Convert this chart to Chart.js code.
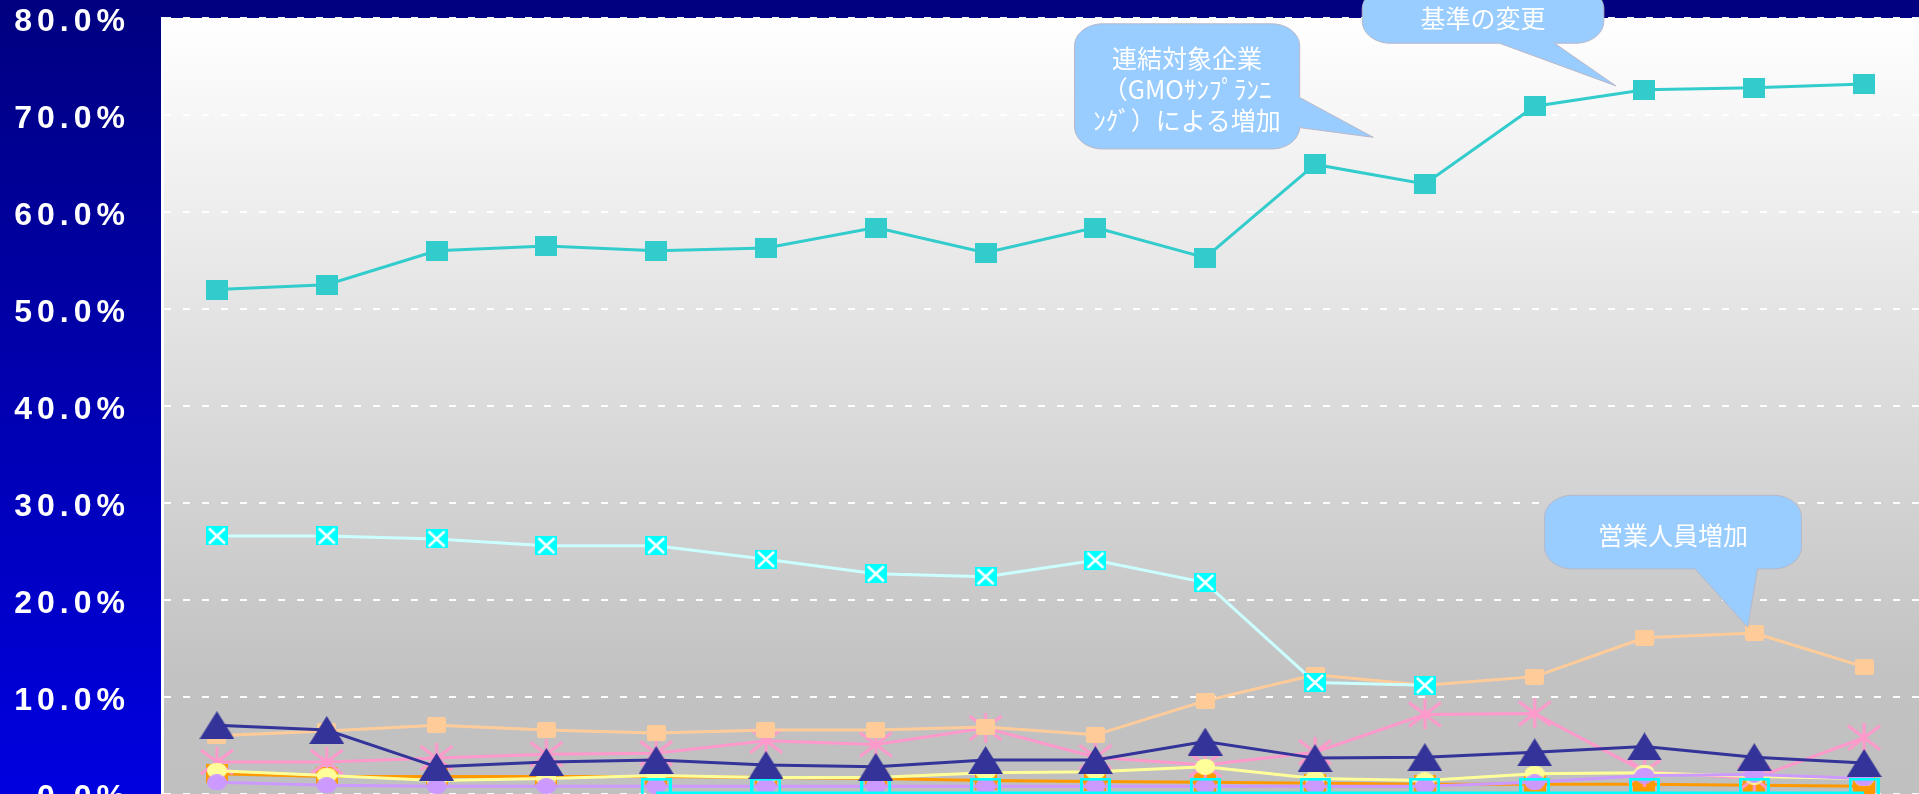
<!DOCTYPE html>
<html><head><meta charset="utf-8">
<script src="https://cdn.jsdelivr.net/npm/chart.js@4/dist/chart.umd.min.js"></script>
<style>html,body{margin:0;padding:0;background:#000080;overflow:hidden}#wrap{width:1919px;height:794px;position:relative}</style>
</head><body><div id="wrap"><canvas id="c"></canvas></div>
<script>
// ---- data ----
const categories = ['1','2','3','4','5','6','7','8','9','10','11','12','13','14','15','16'];
const tealValues     = [52.0, 52.5, 56.0, 56.5, 56.0, 56.3, 58.4, 55.8, 58.4, 55.3, 64.9, 62.9, 70.9, 72.6, 72.8, 73.2];
const cyanXValues    = [26.6, 26.6, 26.3, 25.6, 25.6, 24.2, 22.7, 22.4, 24.1, 21.8, 11.5, 11.2, null, null, null, null];
const peachValues    = [6.0, 6.5, 7.1, 6.6, 6.3, 6.6, 6.6, 6.9, 6.1, 9.6, 12.3, 11.2, 12.1, 16.1, 16.6, 13.1];
const navyValues     = [7.1, 6.6, 2.8, 3.3, 3.5, 3.0, 2.8, 3.5, 3.5, 5.4, 3.7, 3.8, 4.3, 4.9, 3.8, 3.2];
const pinkValues     = [3.3, 3.3, 3.7, 4.1, 4.2, 5.5, 5.1, 6.8, 3.8, 3.0, 4.3, 8.2, 8.3, 2.3, 1.6, 5.8];
const orangeValues   = [2.1, 1.8, 1.8, 1.8, 1.8, 1.7, 1.6, 1.4, 1.3, 1.2, 1.1, 1.0, 1.0, 1.0, 0.9, 0.8];
const yellowValues   = [2.4, 1.9, 1.4, 1.6, 1.9, 1.7, 1.7, 2.2, 2.3, 2.8, 1.6, 1.4, 2.1, 2.2, 1.8, 1.6];
const lavenderValues = [1.2, 0.9, 0.8, 0.8, 0.8, 0.8, 0.8, 0.8, 0.8, 0.8, 0.8, 0.8, 1.2, 1.9, 2.0, 1.6];
const cyanOpenValues = [null, null, null, null, 0.1, 0.1, 0.1, 0.1, 0.1, 0.1, 0.1, 0.1, 0.1, 0.1, 0.1, 0.1];
const yTickLabels = ['0.0%','10.0%','20.0%','30.0%','40.0%','50.0%','60.0%','70.0%','80.0%'];
const callouts = [
  { text: ['連結対象企業', '（GMOｻﾝﾌﾟﾗﾝﾆ', 'ﾝｸﾞ）による増加'], x0: 7.81, x1: 9.86, yTop: 79.4, yBottom: 66.5,
    tailSide: 'right', tailA: 71.8, tailB: 68.7, tipX: 10.53, tipY: 67.7 },
  { text: ['基準の変更'], x0: 10.43, x1: 12.63, yTop: 83.2, yBottom: 77.4,
    tailSide: 'bottom', tailA: 11.68, tailB: 12.18, tipX: 12.74, tipY: 73.0 },
  { text: ['営業人員増加'], x0: 12.09, x1: 14.43, yTop: 30.8, yBottom: 23.2,
    tailSide: 'bottom', tailA: 13.46, tailB: 14.03, tipX: 13.94, tipY: 17.2 }
];

// ---- marker images ----
function mk(w, h, fn) { const c = document.createElement('canvas'); c.width = w; c.height = h; fn(c.getContext('2d'), w, h); return c; }
const mTeal = mk(22, 20, (x, w, h) => { x.fillStyle = '#33CCCC'; x.fillRect(0, 0, w, h); });
const mCyanX = mk(22, 19, (x, w, h) => { x.fillStyle = '#00FFFF'; x.fillRect(0, 0, w, h);
  x.strokeStyle = '#FFFFFF'; x.lineWidth = 2.5; x.beginPath(); x.moveTo(3, 2); x.lineTo(w - 3, h - 2); x.moveTo(w - 3, 2); x.lineTo(3, h - 2); x.stroke(); });
const mPeach = mk(19, 16, (x, w, h) => { x.fillStyle = '#FFCC99'; x.beginPath(); x.roundRect(0, 0, w, h, 2); x.fill(); });
const mNavy = mk(35, 28, (x, w, h) => { x.fillStyle = '#333399'; x.beginPath(); x.moveTo(w / 2, 0); x.lineTo(w, h); x.lineTo(0, h); x.closePath(); x.fill(); });
const mPink = mk(36, 30, (x, w, h) => { x.strokeStyle = '#FF99CC'; x.lineWidth = 3; x.beginPath();
  x.moveTo(w / 2, 0); x.lineTo(w / 2, h); x.moveTo(2, 3); x.lineTo(w - 2, h - 3); x.moveTo(w - 2, 3); x.lineTo(2, h - 3); x.stroke(); });
const mOrange = mk(22, 19, (x, w, h) => { x.fillStyle = '#FF9900'; x.fillRect(0, 0, w, h); });
const mYellow = mk(20, 16, (x, w, h) => { x.fillStyle = '#FFFF99'; x.beginPath(); x.ellipse(w / 2, h / 2, w / 2, h / 2, 0, 0, Math.PI * 2); x.fill(); });
const mLav = mk(20, 16, (x, w, h) => { x.fillStyle = '#CC99FF'; x.beginPath(); x.ellipse(w / 2, h / 2, w / 2, h / 2, 0, 0, Math.PI * 2); x.fill(); });
const mCyanOpen = mk(31, 31, (x, w, h) => { x.strokeStyle = '#00FFFF'; x.lineWidth = 3; x.strokeRect(1.5, 1.5, w - 3, h - 3); });

function ds(label, data, color, marker) {
  return { label, data, borderColor: color, backgroundColor: color, borderWidth: 3, tension: 0, fill: false,
    pointStyle: marker, pointRadius: 6, pointHoverRadius: 6, spanGaps: false };
}

function drawCallout(ctx, xs, ys, c) {
  const L = xs.getPixelForValue(c.x0), R = xs.getPixelForValue(c.x1);
  const T = ys.getPixelForValue(c.yTop), B = ys.getPixelForValue(c.yBottom);
  const tipX = xs.getPixelForValue(c.tipX), tipY = ys.getPixelForValue(c.tipY);
  const rx = 28, ry = 22, k = 0.45;
  ctx.beginPath();
  ctx.moveTo(L + rx, T);
  ctx.lineTo(R - rx, T);
  ctx.bezierCurveTo(R - rx * k, T, R, T + ry * k, R, T + ry);
  if (c.tailSide === 'right') {
    const a = ys.getPixelForValue(c.tailA), b = ys.getPixelForValue(c.tailB);
    ctx.lineTo(R, a); ctx.lineTo(tipX, tipY); ctx.lineTo(R, b);
  }
  ctx.lineTo(R, B - ry);
  ctx.bezierCurveTo(R, B - ry * k, R - rx * k, B, R - rx, B);
  if (c.tailSide === 'bottom') {
    const a = xs.getPixelForValue(c.tailA), b = xs.getPixelForValue(c.tailB);
    ctx.lineTo(b, B); ctx.lineTo(tipX, tipY); ctx.lineTo(a, B);
  }
  ctx.lineTo(L + rx, B);
  ctx.bezierCurveTo(L + rx * k, B, L, B - ry * k, L, B - ry);
  ctx.lineTo(L, T + ry);
  ctx.bezierCurveTo(L, T + ry * k, L + rx * k, T, L + rx, T);
  ctx.closePath();
  ctx.fillStyle = '#99CCFF'; ctx.fill();
  ctx.strokeStyle = '#B8B8C8'; ctx.lineWidth = 1; ctx.stroke();
  ctx.fillStyle = '#FFFFFF';
  ctx.font = '25px "Noto Sans CJK JP"';
  ctx.textAlign = 'center'; ctx.textBaseline = 'middle';
  const lh = 31, cx = (L + R) / 2, cy = (T + B) / 2 + 3;
  c.text.forEach((t, i) => ctx.fillText(t, cx, cy + (i - (c.text.length - 1) / 2) * lh));
}

const bgPlugin = {
  id: 'bg',
  beforeDraw(chart) {
    const { ctx, chartArea: a, width, height } = chart;
    ctx.save();
    const g = ctx.createLinearGradient(0, 0, 0, height);
    g.addColorStop(0, '#000080'); g.addColorStop(1, '#0000E0');
    ctx.fillStyle = g; ctx.fillRect(0, 0, width, height);
    const p = ctx.createLinearGradient(0, a.top, 0, a.bottom);
    p.addColorStop(0, '#FFFFFF'); p.addColorStop(0.85, '#C2C2C2'); p.addColorStop(1, '#C0C0C0');
    ctx.fillStyle = p; ctx.fillRect(a.left, a.top, a.right - a.left, a.bottom - a.top);
    ctx.restore();
    ctx.letterSpacing = '5px';
  },
  beforeDatasetsDraw(chart) { chart.ctx.letterSpacing = '0px'; },
  afterDraw(chart) {
    const ctx = chart.ctx;
    ctx.save();
    ctx.letterSpacing = '0px';
    callouts.forEach(c => drawCallout(ctx, chart.scales.x, chart.scales.y, c));
    ctx.restore();
  }
};

new Chart(document.getElementById('c'), {
  type: 'line',
  data: {
    labels: categories,
    datasets: [
      ds('系列1', tealValues, '#33CCCC', mTeal),
      Object.assign(ds('系列2', cyanXValues, '#CCFFFF', mCyanX), { backgroundColor: '#00FFFF' }),
      ds('系列3', navyValues, '#333399', mNavy),
      ds('系列4', peachValues, '#FFCC99', mPeach),
      ds('系列5', cyanOpenValues, '#00FFFF', mCyanOpen),
      ds('系列6', lavenderValues, '#CC99FF', mLav),
      ds('系列7', yellowValues, '#FFFF99', mYellow),
      ds('系列8', pinkValues, '#FF99CC', mPink),
      ds('系列9', orangeValues, '#FF9900', mOrange)
    ]
  },
  options: {
    responsive: true, maintainAspectRatio: false, animation: false, devicePixelRatio: 1,
    events: [],
    layout: { autoPadding: false, padding: { top: 18, left: 0, right: 0, bottom: 0 } },
    plugins: { legend: { display: false }, tooltip: { enabled: false } },
    scales: {
      x: { display: false, offset: true },
      y: {
        min: 0, max: 80,
        afterFit(s) { s.width = 162; s.paddingTop = 0; s.paddingBottom = 0; },
        ticks: { stepSize: 10, color: '#FFFFFF', padding: 32, labelOffset: 4,
          font: { family: '"Liberation Sans", Arial, sans-serif', size: 32, weight: 'bold' },
          callback: (v, i) => yTickLabels[i] },
        grid: { color: 'rgba(255,255,255,0.95)', lineWidth: 2, drawTicks: false },
        border: { display: true, color: '#FFFFFF', width: 3, dash: [7, 12] }
      }
    }
  },
  plugins: [bgPlugin]
});
</script>
</body></html>
